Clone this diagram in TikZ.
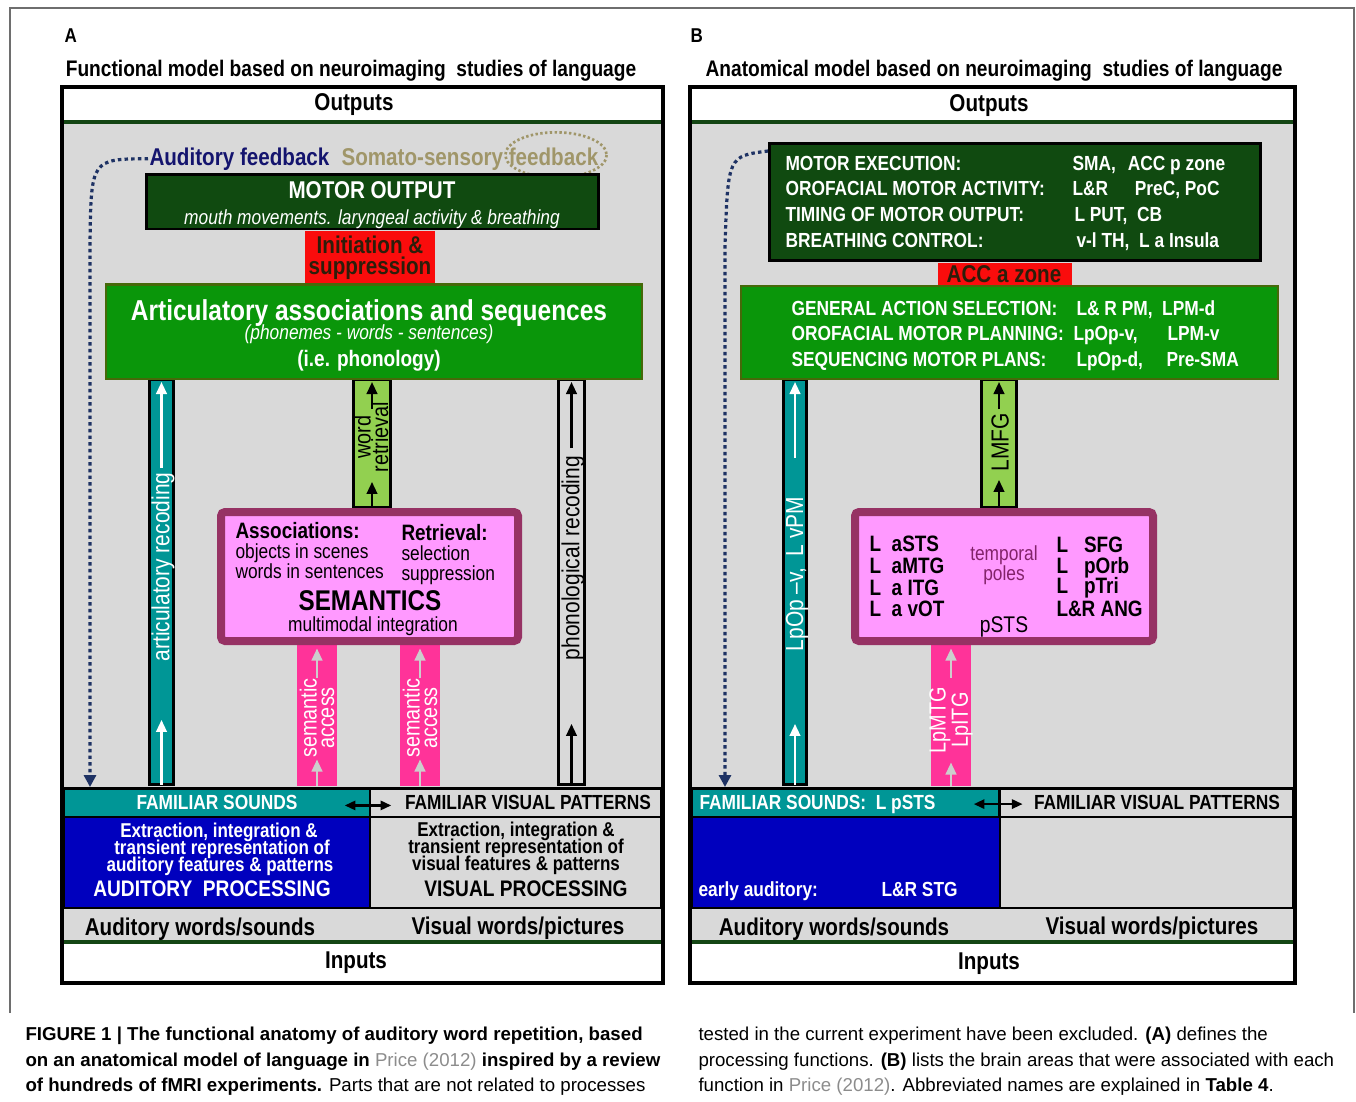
\documentclass[tikz,border=0pt]{standalone}
\usepackage{fontspec}
\setmainfont{Liberation Sans}[FakeStretch=0.85]
\newfontfamily\capfont{Liberation Sans}[FakeStretch=1.0]
\usetikzlibrary{arrows.meta,calc}

\definecolor{bggray}{RGB}{217,217,217}
\definecolor{motorgreen}{RGB}{16,74,16}
\definecolor{artgreen}{RGB}{10,150,10}
\definecolor{artedge}{RGB}{70,105,10}
\definecolor{initred}{RGB}{250,12,12}
\definecolor{initdark}{RGB}{45,30,10}
\definecolor{tealc}{RGB}{0,150,150}
\definecolor{limec}{RGB}{146,208,80}
\definecolor{semfill}{RGB}{255,153,255}
\definecolor{semedge}{RGB}{150,50,100}
\definecolor{accpink}{RGB}{255,51,153}
\definecolor{audblue}{RGB}{0,0,190}
\definecolor{navytxt}{RGB}{20,20,110}
\definecolor{navyline}{RGB}{30,50,100}
\definecolor{somatotxt}{RGB}{160,150,105}
\definecolor{sepgreen}{RGB}{20,70,20}
\definecolor{tipgray}{RGB}{205,205,205}
\definecolor{citegray}{RGB}{140,140,140}
\definecolor{framegray}{RGB}{110,110,110}
\definecolor{temppole}{RGB}{130,35,105}

\tikzset{every picture/.style={line width=0.75pt}}
\tikzset{
  lettr/.style={inner sep=0.75pt,font=\fontsize{15}{16}\selectfont\bfseries},
  ttl/.style={inner sep=0.75pt,font=\fontsize{16.9}{18}\selectfont\bfseries},
  big/.style={inner sep=0.75pt,font=\fontsize{18.2}{18}\selectfont\bfseries},
  mid/.style={inner sep=0.75pt,font=\fontsize{15.3}{15}\selectfont\bfseries},
  itl/.style={inner sep=0.75pt,font=\fontsize{15.3}{15}\selectfont\itshape},
  reg/.style={inner sep=0.75pt,font=\fontsize{15.3}{15}\selectfont},
  semb/.style={inner sep=0.75pt,font=\fontsize{16.7}{16}\selectfont\bfseries},
  semt/.style={inner sep=0.75pt,font=\fontsize{21.4}{20}\selectfont\bfseries},
  artt/.style={inner sep=0.75pt,font=\fontsize{21.6}{20}\selectfont\bfseries},
  phont/.style={inner sep=0.75pt,font=\fontsize{16.8}{16}\selectfont\bfseries},
  proc/.style={inner sep=0.75pt,font=\fontsize{15}{15}\selectfont\bfseries},
  procb/.style={inner sep=0.75pt,font=\fontsize{16.9}{16}\selectfont\bfseries},
  rot/.style={rotate=90,inner sep=0.75pt,font=\fontsize{18.5}{18}\selectfont},
  rottwo/.style={rotate=90,inner sep=0.75pt,align=center,font=\fontsize{17.5}{13}\selectfont},
  barbox/.style={draw=black,line width=2.2pt,inner sep=0pt},
  plainbar/.style={inner sep=0pt},
  boxnode/.style={draw=black,line width=2.2pt,inner sep=0pt},
  wup/.style={white,line width=1.6pt,-{Triangle[length=9pt,width=8pt]}},
  bup/.style={black,line width=1.6pt,-{Triangle[length=9pt,width=8pt]}},
  gup/.style={tipgray,line width=1.6pt,-{Triangle[length=9pt,width=8pt]}},
  dblarr/.style={black,line width=1.6pt,{Triangle[length=8pt,width=7pt]}-{Triangle[length=8pt,width=7pt]}},
  fbk/.style={navyline,line width=2.4pt,dash pattern=on 2.6pt off 2.4pt,-{Triangle[length=9pt,width=9pt]}},
  smdot/.style={somatotxt,line width=2pt,dash pattern=on 1.8pt off 1.8pt},
  capt/.style={inner sep=0pt,font=\capfont\fontsize{14}{15}\selectfont},
}

\begin{document}
\begin{tikzpicture}[x=0.75pt,y=0.75pt,yscale=-1,xscale=1]
\useasboundingbox (0,0) rectangle (1356,1101);

%Straight Lines: figure frame
\draw[framegray,line width=0.8pt] (10,1013) -- (10,8) -- (1354,8) -- (1354,1013);

%%%%%%%%%% Panel A %%%%%%%%%%
% Text Node
\node[lettr,anchor=base west] (labA) at (63,42) {A};
% Text Node
\node[ttl,anchor=base] (ttlA) at (351,76) {Functional model based on neuroimaging\ \ studies of language};

%Shape: Rectangle
\draw[fill=white,line width=3pt] (62,87) rectangle (663,983);
\fill[bggray] (64,122) rectangle (661,942);
%Straight Lines
\draw[sepgreen,line width=2.5pt] (64,122) -- (661,122);
\draw[sepgreen,line width=2.5pt] (64,942) -- (661,942);

%Shape: Ellipse
\draw[smdot] (556,155) ellipse [x radius=38pt,y radius=17pt];

%Shape: bars
\node[barbox,fill=tealc,minimum width=18pt,minimum height=303.75pt] (arcA) at (161.5,582) {};
\node[barbox,fill=limec,minimum width=27.75pt,minimum height=96pt] (wrA) at (372,443.5) {};
\node[barbox,fill=bggray,minimum width=19.5pt,minimum height=303.75pt] (phrA) at (571.5,582) {};
\node[plainbar,fill=accpink,minimum width=30pt,minimum height=109.5pt] (saA) at (317,713) {};
\node[plainbar,fill=accpink,minimum width=30pt,minimum height=109.5pt] (sbA) at (420,713) {};

%Shape: Rectangle
\draw[fill=motorgreen,line width=2.2pt] (146.5,174.5) rectangle (598.5,229);
\fill[initred] (305,230.5) rectangle (435,284.5);
\draw[fill=artgreen,draw=artedge,line width=1.8pt] (106,284.5) rectangle (642,379);
\draw[fill=semfill,draw=semedge,line width=6pt,rounded corners=3pt] (221,512) rectangle (518,641);

%Shape: bottom boxes
\node[boxnode,fill=tealc,minimum width=229.5pt,minimum height=21.4pt] (fsA) at (217,802.75) {};
\node[boxnode,fill=bggray,minimum width=218.25pt,minimum height=21.4pt] (fvA) at (515.5,802.75) {};
\draw[fill=audblue,line width=2.2pt] (64,817) rectangle (370,908);
\draw[fill=bggray,line width=2.2pt] (370,817) rectangle (661,908);

% Text Node
\node[big,anchor=base] (outA) at (354,110) {Outputs};
\node[big,anchor=base west,text=navytxt] (afbA) at (148,165) {Auditory feedback};
\node[big,anchor=base west,text=somatotxt] (sfbA) at (340,165) {Somato-sensory feedback};
\node[big,anchor=base,text=white] (motA) at (372,198) {MOTOR OUTPUT};
\node[itl,anchor=base,text=white] (motsA) at (372,224) {mouth movements. laryngeal activity \& breathing};
\node[big,align=center,text=initdark,font=\fontsize{18.2}{15.75}\selectfont\bfseries] (initA) at (370,258) {Initiation \&\\suppression};
\node[artt,anchor=base,text=white] (artA) at (369,320) {Articulatory associations and sequences};
\node[itl,anchor=base,text=white] (phnA) at (369,339) {(phonemes - words - sentences)};
\node[phont,anchor=base,text=white] (ipA) at (369,366) {(i.e. phonology)};

\node[rot,text=white] (arctA) at (163,567) {articulatory recoding};
\node[rottwo,text=black] (wrtA) at (371,437) {word\\retrieval};
\node[rot,text=black] (phrtA) at (573,558) {phonological recoding};
\node[rottwo,text=white] (satA) at (317,718) {semantic\\access};
\node[rottwo,text=white] (sbtA) at (420,718) {semantic\\access};

\node[semb,anchor=base west] (assA) at (234,538) {Associations:};
\node[reg,anchor=base west] (objA) at (234,558) {objects in scenes};
\node[reg,anchor=base west] (wisA) at (234,578) {words in sentences};
\node[semb,anchor=base west] (retA) at (400,540) {Retrieval:};
\node[reg,anchor=base west] (selA) at (400,560) {selection};
\node[reg,anchor=base west] (supA) at (400,580) {suppression};
\node[semt,anchor=base] (semA) at (370,610) {SEMANTICS};
\node[reg,anchor=base] (mmA) at (373,631) {multimodal integration};

\node[mid,anchor=base,text=white] (fstA) at (217,809) {FAMILIAR SOUNDS};
\node[mid,anchor=base] (fvtA) at (528,809) {FAMILIAR VISUAL PATTERNS};
\node[proc,anchor=base,text=white] (axA) at (219,837) {Extraction, integration \&};
\node[proc,anchor=base,text=white] (atA) at (222,854) {transient representation of};
\node[proc,anchor=base,text=white] (afA) at (220,871) {auditory features \& patterns};
\node[procb,anchor=base,text=white] (apA) at (212,896) {AUDITORY\ \ PROCESSING};
\node[proc,anchor=base] (vxA) at (516,836) {Extraction, integration \&};
\node[proc,anchor=base] (vtA) at (516,853) {transient representation of};
\node[proc,anchor=base] (vfA) at (516,870) {visual features \& patterns};
\node[procb,anchor=base] (vpA) at (526,896) {VISUAL PROCESSING};
\node[big,anchor=base] (awA) at (200,935) {Auditory words/sounds};
\node[big,anchor=base] (vwA) at (518,934) {Visual words/pictures};
\node[big,anchor=base] (inA) at (356,968) {Inputs};

%Straight Lines: arrows in the bars
\draw[wup] ($(arcA.north)+(0,90)$) -- ($(arcA.north)+(0,4)$);
\draw[wup] ($(arcA.south)+(0,-1)$) -- ($(arcA.south)+(0,-66)$);
\draw[bup] ($(wrA.north)+(0,31)$) -- ($(wrA.north)+(0,4)$);
\draw[bup] ($(wrA.south)+(0,-1)$) -- ($(wrA.south)+(0,-27)$);
\draw[bup] ($(phrA.north)+(0,70)$) -- ($(phrA.north)+(0,4)$);
\draw[bup] ($(phrA.south)+(0,-1)$) -- ($(phrA.south)+(0,-62)$);
\draw[gup] ($(saA.north)+(0,38)$) -- ($(saA.north)+(0,9)$);
\draw[gup] ($(saA.south)+(0,-1)$) -- ($(saA.south)+(0,-27)$);
\draw[gup] ($(sbA.north)+(0,38)$) -- ($(sbA.north)+(0,9)$);
\draw[gup] ($(sbA.south)+(0,-1)$) -- ($(sbA.south)+(0,-27)$);

%Curve Lines: auditory feedback
\coordinate (fbkcA) at (91,159);
\coordinate (fbkA) at (90,245);
\draw[fbk] (afbA.west) .. controls (fbkcA) .. (fbkA) -- (fbkA |- fsA.north);
\draw[dblarr] ([xshift=-20pt,yshift=2pt]fsA.east) -- ([xshift=17pt,yshift=2pt]fvA.west);

%%%%%%%%%% Panel B %%%%%%%%%%
% Text Node
\node[lettr,anchor=base west] (labB) at (689,42) {B};
\node[ttl,anchor=base] (ttlB) at (994,76) {Anatomical model based on neuroimaging\ \ studies of language};

%Shape: Rectangle
\draw[fill=white,line width=3pt] (690,87) rectangle (1295,983);
\fill[bggray] (692,122) rectangle (1293,942);
%Straight Lines
\draw[sepgreen,line width=2.5pt] (692,122) -- (1293,122);
\draw[sepgreen,line width=2.5pt] (692,942) -- (1293,942);

%Shape: bars
\node[barbox,fill=tealc,minimum width=17.25pt,minimum height=303.75pt] (lvB) at (795,582) {};
\node[barbox,fill=limec,minimum width=26.25pt,minimum height=96pt] (lmB) at (999,443.5) {};
\node[plainbar,fill=accpink,minimum width=30pt,minimum height=109.5pt] (lpB) at (951,713) {};

%Shape: Rectangle
\node[boxnode,fill=motorgreen,minimum width=368.25pt,minimum height=87.75pt] (motB) at (1015,202) {};
\fill[initred] (938,263) rectangle (1072,286);
\draw[fill=artgreen,draw=artedge,line width=1.8pt] (741,286) rectangle (1278,379);
\draw[fill=semfill,draw=semedge,line width=6pt,rounded corners=3pt] (855,512) rectangle (1153,641);

%Shape: bottom boxes
\node[boxnode,fill=tealc,minimum width=230.25pt,minimum height=21.4pt] (fsB) at (845.5,802.75) {};
\node[boxnode,fill=bggray,minimum width=219.75pt,minimum height=21.4pt] (fvB) at (1146.5,802.75) {};
\draw[fill=audblue,line width=2.2pt] (692,817) rectangle (1000,908);
\draw[fill=bggray,line width=2.2pt] (1000,817) rectangle (1293,908);

% Text Node
\node[big,anchor=base] (outB) at (989,111) {Outputs};
\node[mid,anchor=base west,text=white] (m1B) at (784,170) {MOTOR EXECUTION:};
\node[mid,anchor=base west,text=white] (m2B) at (784,195) {OROFACIAL MOTOR ACTIVITY:};
\node[mid,anchor=base west,text=white] (m3B) at (784,221) {TIMING OF MOTOR OUTPUT:};
\node[mid,anchor=base west,text=white] (m4B) at (784,247) {BREATHING CONTROL:};
\node[mid,anchor=base west,text=white] (r1B) at (1071,170) {SMA,\hspace{9pt}ACC p zone};
\node[mid,anchor=base west,text=white] (r2B) at (1071,195) {L\&R\hspace{20pt}PreC, PoC};
\node[mid,anchor=base west,text=white] (r3B) at (1073,221) {L PUT,\ \ CB};
\node[mid,anchor=base west,text=white] (r4B) at (1075,247) {v-l TH,\ \ L a Insula};
\node[big,anchor=base,text=initdark] (accB) at (1004,282) {ACC a zone};
\node[mid,anchor=base west,text=white] (g1B) at (790,315) {GENERAL ACTION SELECTION:};
\node[mid,anchor=base west,text=white] (g2B) at (790,340) {OROFACIAL MOTOR PLANNING:};
\node[mid,anchor=base west,text=white] (g3B) at (790,366) {SEQUENCING MOTOR PLANS:};
\node[mid,anchor=base west,text=white] (h1B) at (1075,315) {L\& R PM,\ \ LPM-d};
\node[mid,anchor=base west,text=white] (h2B) at (1072,340) {LpOp-v,};
\node[mid,anchor=base west,text=white] (h2bB) at (1166,340) {LPM-v};
\node[mid,anchor=base west,text=white] (h3B) at (1075,366) {LpOp-d,};
\node[mid,anchor=base west,text=white] (h3bB) at (1165,366) {Pre-SMA};

\node[rot,text=white] (lvtB) at (797,574) {LpOp --v,\ \ L vPM};
\node[rot,text=black] (lmtB) at (1000,442) {LMFG};
\node[rottwo,text=white] (lptB) at (951,720) {LpMTG\\LpITG};

\node[semb,anchor=base west] (s1B) at (868,551) {L\hspace{8pt}aSTS};
\node[semb,anchor=base west] (s2B) at (868,573) {L\hspace{8pt}aMTG};
\node[semb,anchor=base west] (s3B) at (868,595) {L\hspace{8pt}a ITG};
\node[semb,anchor=base west] (s4B) at (868,616) {L\hspace{8pt}a vOT};
\node[reg,anchor=base,text=temppole] (tpB) at (1004,560) {temporal};
\node[reg,anchor=base,text=temppole] (plB) at (1004,580) {poles};
\node[reg,anchor=base,font=\fontsize{17}{17}\selectfont] (psB) at (1004,632) {pSTS};
\node[semb,anchor=base west] (t1B) at (1055,552) {L\hspace{12pt}SFG};
\node[semb,anchor=base west] (t2B) at (1055,573) {L\hspace{12pt}pOrb};
\node[semb,anchor=base west] (t3B) at (1055,593) {L\hspace{12pt}pTri};
\node[semb,anchor=base west] (t4B) at (1055,616) {L\&R ANG};

\node[mid,anchor=base west,text=white] (fstB) at (698,809) {FAMILIAR SOUNDS:\ \ L pSTS};
\node[mid,anchor=base] (fvtB) at (1157,809) {FAMILIAR VISUAL PATTERNS};
\node[mid,anchor=base west,text=white] (eaB) at (697,896) {early auditory:};
\node[mid,anchor=base west,text=white] (stgB) at (880,896) {L\&R STG};
\node[big,anchor=base] (awB) at (834,935) {Auditory words/sounds};
\node[big,anchor=base] (vwB) at (1152,934) {Visual words/pictures};
\node[big,anchor=base] (inB) at (989,969) {Inputs};

%Straight Lines: arrows in the bars
\draw[wup] ($(lvB.north)+(0,80)$) -- ($(lvB.north)+(0,4)$);
\draw[wup] ($(lvB.south)+(0,-1)$) -- ($(lvB.south)+(0,-62)$);
\draw[bup] ($(lmB.north)+(0,31)$) -- ($(lmB.north)+(0,4)$);
\draw[bup] ($(lmB.south)+(0,-1)$) -- ($(lmB.south)+(0,-29)$);
\draw[gup] ($(lpB.north)+(0,38)$) -- ($(lpB.north)+(0,9)$);
\draw[gup] ($(lpB.south)+(0,-1)$) -- ($(lpB.south)+(0,-24)$);

%Curve Lines: auditory feedback
\coordinate (fbkcB) at (728,156);
\coordinate (fbkB) at (725,245);
\draw[fbk] ($(motB.north west)+(0,9)$) .. controls (fbkcB) .. (fbkB) -- (fbkB |- fsB.north);
\draw[dblarr] ([xshift=-20pt,yshift=1pt]fsB.east) -- ([xshift=18pt,yshift=1pt]fvB.west);

%%%%%%%%%% Caption %%%%%%%%%%
\node[capt,anchor=base west] (c1) at (25,1040) {\bfseries FIGURE 1 | The functional anatomy of auditory word repetition, based};
\node[capt,anchor=base west] (c2) at (25,1066) {\textbf{on an anatomical model of language in} \textcolor{citegray}{Price (2012)} \textbf{inspired by a review}};
\node[capt,anchor=base west] (c3) at (25,1091) {\textbf{of hundreds of fMRI experiments.} Parts that are not related to processes};
\node[capt,anchor=base west] (c4) at (698,1040) {tested in the current experiment have been excluded. \textbf{(A)} defines the};
\node[capt,anchor=base west] (c5) at (698,1066) {processing functions. \textbf{(B)} lists the brain areas that were associated with each};
\node[capt,anchor=base west] (c6) at (698,1091) {function in \textcolor{citegray}{Price (2012)}. Abbreviated names are explained in \textbf{Table 4}.};

\end{tikzpicture}
\end{document}
